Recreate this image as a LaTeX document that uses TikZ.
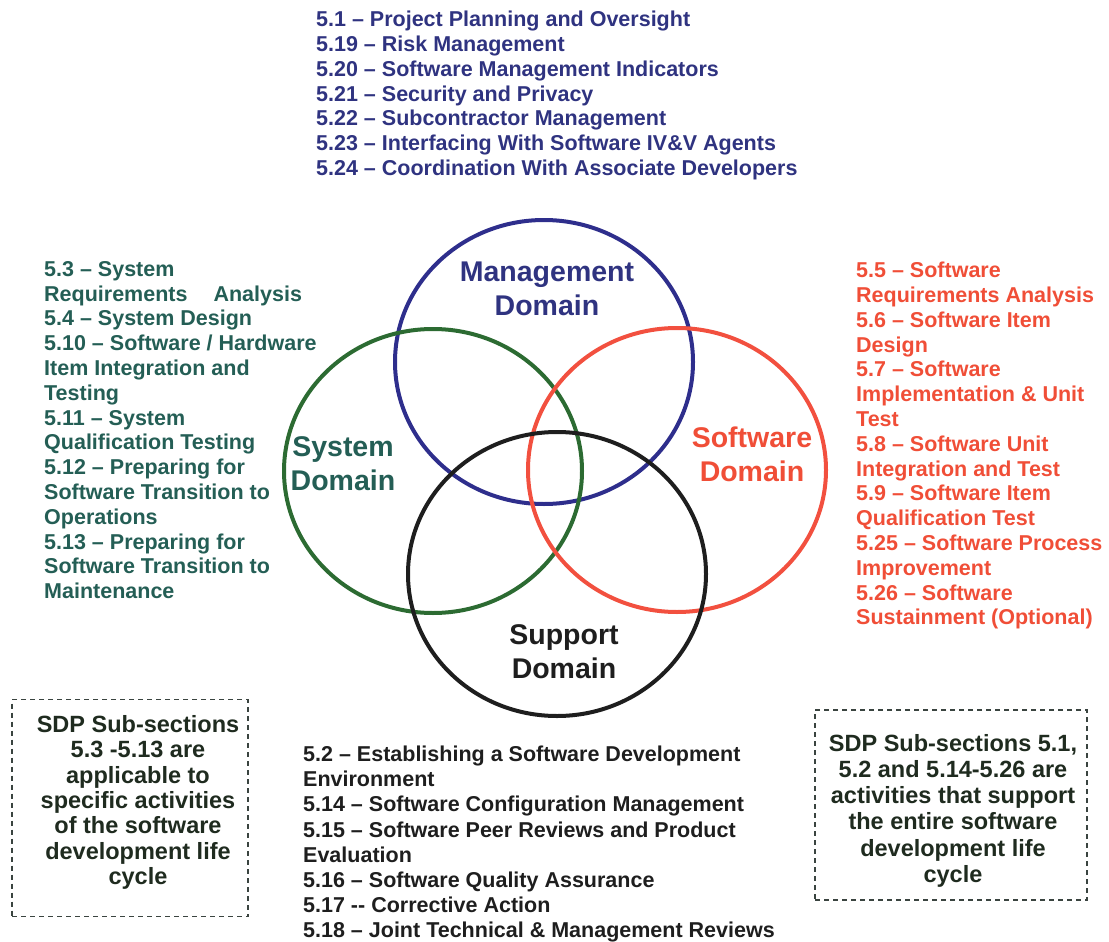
\documentclass[tikz,border=0pt]{standalone}
\usepackage{fontspec}
\usetikzlibrary{shapes.geometric}
\setmainfont{Liberation Sans}
\definecolor{mgmtt}{HTML}{2F3380}
\definecolor{mgmtc}{HTML}{2E2E8C}
\definecolor{syst}{HTML}{245E55}
\definecolor{sysc}{HTML}{2C6B32}
\definecolor{swt}{HTML}{F04E37}
\definecolor{swc}{HTML}{F2503F}
\definecolor{supc}{HTML}{1E1E1E}
\definecolor{boxtext}{HTML}{1F2B1F}
\definecolor{boxline}{HTML}{3A4440}
\begin{document}
\begin{tikzpicture}[x=1pt,y=-1pt,
  ring/.style={ellipse, draw, line width=4pt, minimum width=298pt, minimum height=284pt, inner sep=0pt},
  lbl/.style={font=\fontsize{28.5}{34}\selectfont\bfseries, align=center, anchor=north, inner sep=0pt},
  lst/.style={font=\fontsize{21.5}{24.8}\selectfont\bfseries, align=left, anchor=north west, inner sep=0pt},
  dbox/.style={draw=boxline, line width=1.5pt, dash pattern=on 5pt off 4pt, inner sep=0pt},
  btxt/.style={font=\fontsize{23.5}{25.4}\selectfont\bfseries, align=center, text=boxtext, anchor=north, inner sep=0pt}]
\useasboundingbox (0,0) rectangle (1109,942);
% circles
\node[ring, draw=mgmtc] (mgmt) at (544,362) {};
\node[ring, draw=sysc] (sys) at (433,471) {};
\node[ring, draw=swc] (sw) at (677,470) {};
\node[ring, draw=supc] (sup) at (557,574) {};
% circle labels
\node[lbl, text=mgmtt] (mgmtl) at (547,262) {Management\\Domain};
\node[lbl, text=syst] (sysl) at (343,436) {System\\Domain};
\node[lbl, text=swt] (swl) at (752,427) {Software\\Domain};
\node[lbl, text=supc] (supl) at (564,624) {Support\\Domain};
% lists
\node[lst, text=mgmtt] (mlist) at (316,11) {5.1 – Project Planning and Oversight\\
5.19 – Risk Management\\
5.20 – Software Management Indicators\\
5.21 – Security and Privacy\\
5.22 – Subcontractor Management\\
5.23 – Interfacing With Software IV\&V Agents\\
5.24 – Coordination With Associate Developers};
\node[lst, text=syst] (slist) at (44,261) {5.3 – System\\
Requirements\hspace{26pt}Analysis\\
5.4 – System Design\\
5.10 – Software / Hardware\\
Item Integration and\\
Testing\\
5.11 – System\\
Qualification Testing\\
5.12 – Preparing for\\
Software Transition to\\
Operations\\
5.13 – Preparing for\\
Software Transition to\\
Maintenance};
\node[lst, text=swt] (swlist) at (856,262) {5.5 – Software\\
Requirements Analysis\\
5.6 – Software Item\\
Design\\
5.7 – Software\\
Implementation \& Unit\\
Test\\
5.8 – Software Unit\\
Integration and Test\\
5.9 – Software Item\\
Qualification Test\\
5.25 – Software Process\\
Improvement\\
5.26 – Software\\
Sustainment (Optional)};
\node[lst, text=supc, font=\fontsize{21.5}{25.1}\selectfont\bfseries] (suplist) at (303,746) {5.2 – Establishing a Software Development\\
Environment\\
5.14 – Software Configuration Management\\
5.15 – Software Peer Reviews and Product\\
Evaluation\\
5.16 – Software Quality Assurance\\
5.17 -{}- Corrective Action\\
5.18 – Joint Technical \& Management Reviews};
% dashed boxes
\node[dbox, minimum width=236pt, minimum height=217pt] (lbox) at (130,808) {};
\node[btxt] (lboxt) at (138,715) {SDP Sub-sections\\
5.3 -5.13 are\\
applicable to\\
specific activities\\
of the software\\
development life\\
cycle};
\node[dbox, minimum width=272pt, minimum height=190pt] (rbox) at (951,805) {};
\node[btxt, font=\fontsize{23.5}{26.2}\selectfont\bfseries] (rboxt) at (953,734) {SDP Sub-sections 5.1,\\
5.2 and 5.14-5.26 are\\
activities that support\\
the entire software\\
development life\\
cycle};
\end{tikzpicture}
\end{document}
